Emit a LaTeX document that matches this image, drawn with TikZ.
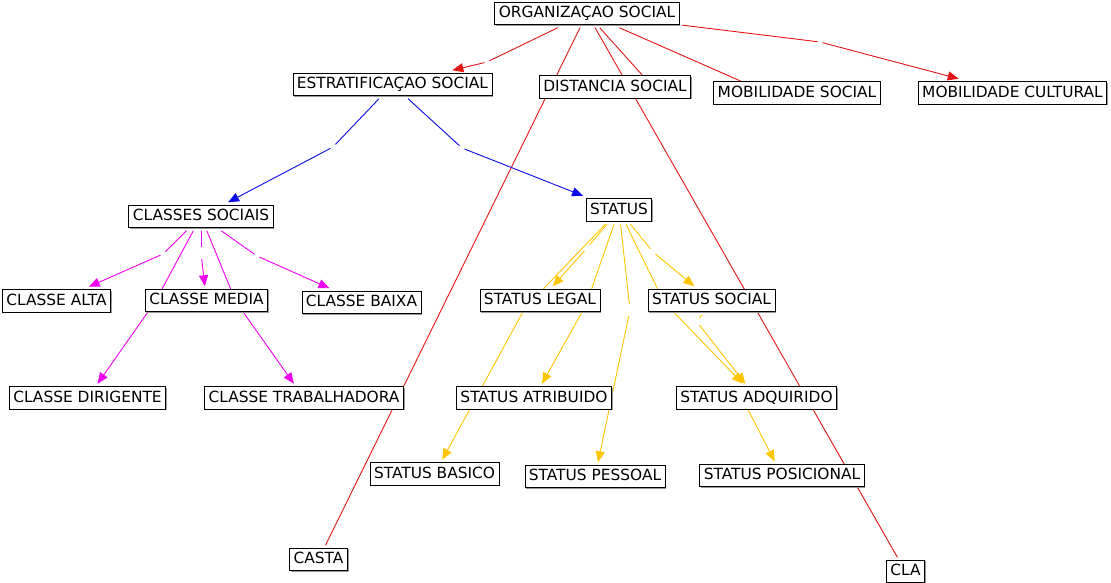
\documentclass[tikz,border=0pt]{standalone}
\usepackage{fontspec}
\setmainfont{DejaVu Sans}
\usetikzlibrary{arrows.meta,shadows}
\pgfdeclarelayer{bg}
\pgfsetlayers{bg,main}
\definecolor{cred}{RGB}{228,20,20}
\definecolor{cblue}{RGB}{10,10,230}
\definecolor{cmag}{RGB}{240,0,240}
\definecolor{cyel}{RGB}{255,198,0}
\tikzset{
  concept/.style={draw=black, line width=0.8pt, fill=white, inner xsep=4pt, inner ysep=4pt,
    text height=11.5pt, text depth=3pt, font=\fontsize{15.4}{18}\selectfont, outer sep=3pt,
    drop shadow={shadow xshift=1.1pt, shadow yshift=-1.1pt, fill=black!40, opacity=1}},
  gap/.style={inner sep=0pt, minimum width=5pt, minimum height=12pt, outer sep=0pt},
  link/.style={line width=0.9pt},
  tip/.style={-{Triangle[length=11pt,width=9pt]}},
  redl/.style={link, draw=cred},
  bluel/.style={link, draw=cblue},
  magl/.style={link, draw=cmag},
  yell/.style={link, draw=cyel}
}
\begin{document}
\begin{tikzpicture}[x=1pt,y=-1pt]
\useasboundingbox (0,0) rectangle (1111,582);
% concepts
\node[concept] (org) at (587,13.5) {ORGANIZAÇAO SOCIAL};
\node[concept] (estrat) at (392.5,84.5) {ESTRATIFICAÇAO SOCIAL};
\node[concept] (dist) at (615,87) {DISTANCIA SOCIAL};
\node[concept] (mobsoc) at (797,93) {MOBILIDADE SOCIAL};
\node[concept] (mobcult) at (1012.5,93) {MOBILIDADE CULTURAL};
\node[concept] (classes) at (201,216.5) {CLASSES SOCIAIS};
\node[concept] (status) at (619,210) {STATUS};
\node[concept] (calta) at (56.5,301) {CLASSE ALTA};
\node[concept] (cmedia) at (206.5,300.5) {CLASSE MEDIA};
\node[concept] (cbaixa) at (361.5,302.5) {CLASSE BAIXA};
\node[concept] (slegal) at (540,300.5) {STATUS LEGAL};
\node[concept] (ssocial) at (711.5,300.5) {STATUS SOCIAL};
\node[concept] (cdir) at (87.5,398) {CLASSE DIRIGENTE};
\node[concept] (ctrab) at (304,398) {CLASSE TRABALHADORA};
\node[concept] (satrib) at (534,398) {STATUS ATRIBUIDO};
\node[concept] (sadq) at (756.5,398) {STATUS ADQUIRIDO};
\node[concept] (sbasico) at (434.5,474) {STATUS BASICO};
\node[concept] (spessoal) at (595,476.5) {STATUS PESSOAL};
\node[concept] (sposic) at (782,475.5) {STATUS POSICIONAL};
\node[concept] (casta) at (318.5,559.5) {CASTA};
\node[concept] (cla) at (905.5,571.5) {CLA};
% empty linking points (gaps)
\node[gap] (g1) at (487,62) {};
\node[gap] (g2) at (820,42) {};
\node[gap] (g3) at (333,147) {};
\node[gap] (g4) at (462,148) {};
\node[gap] (g5) at (163,254) {};
\node[gap] (g6) at (201,253) {};
\node[gap] (g7) at (257,256) {};
\node[gap] (g8) at (587,248) {};
\node[gap] (g9) at (630,310) {};
\node[gap] (g10) at (653,252) {};
\node[gap, minimum height=8pt] (g11) at (697,322) {};
% hidden linking points (behind concepts)
\coordinate (hdist) at (652,86);
\coordinate (hmobsoc) at (761,90);
\coordinate (h1) at (155,302);
\coordinate (h2) at (236,302);
\coordinate (h3) at (525,308);
\coordinate (h4) at (586,305);
\coordinate (h5) at (664,302);
\coordinate (h6) at (742,398);
\begin{pgfonlayer}{bg}
% red
\draw[redl] (org) -- (g1); \draw[redl,tip] (g1) -- (estrat);
\draw[redl] (org) -- (casta);
\draw[redl] (org) -- (cla);
\draw[redl] (org) -- (hdist);
\draw[redl] (org) -- (hmobsoc);
\draw[redl] (org) -- (g2); \draw[redl,tip] (g2) -- (mobcult);
% blue
\draw[bluel] (estrat) -- (g3); \draw[bluel,tip] (g3) -- (classes);
\draw[bluel] (estrat) -- (g4); \draw[bluel,tip] (g4) -- (status);
% magenta
\draw[magl] (classes) -- (g5); \draw[magl,tip] (g5) -- (calta);
\draw[magl] (classes) -- (h1); \draw[magl,tip] (h1) -- (cdir);
\draw[magl] (classes) -- (g6); \draw[magl,tip] (g6) -- (cmedia);
\draw[magl] (classes) -- (h2); \draw[magl,tip] (h2) -- (ctrab);
\draw[magl] (classes) -- (g7); \draw[magl,tip] (g7) -- (cbaixa);
% yellow
\draw[yell] (status) -- (h3); \draw[yell,tip] (h3) -- (sbasico);
\draw[yell] (status) -- (g8); \draw[yell,tip] (g8) -- (slegal);
\draw[yell] (status) -- (h4); \draw[yell,tip] (h4) -- (satrib);
\draw[yell] (status) -- (g9); \draw[yell,tip] (g9) -- (spessoal);
\draw[yell] (status) -- (g10); \draw[yell,tip] (g10) -- (ssocial);
\draw[yell] (status) -- (h5); \draw[yell,tip] (h5) -- (sadq);
\draw[yell] (ssocial) -- (g11); \draw[yell,tip] (g11) -- (sadq);
\draw[yell,tip] (h6) -- (sposic);
\end{pgfonlayer}
\end{tikzpicture}
\end{document}
